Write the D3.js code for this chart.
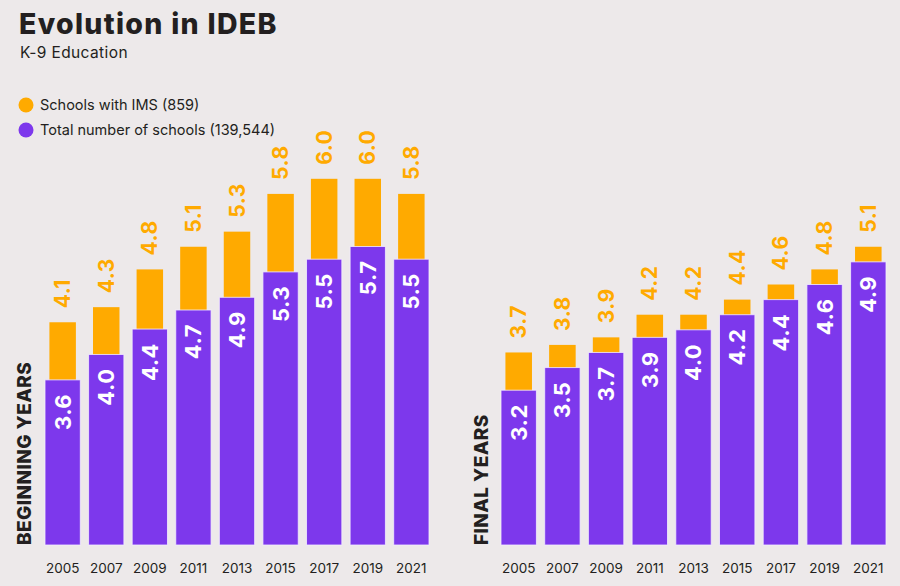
<!DOCTYPE html>
<html><head><meta charset="utf-8">
<script src="https://cdn.jsdelivr.net/npm/d3@7"></script>
<style>html,body{margin:0;padding:0;background:#EDE9EA;} svg{display:block}</style>
</head><body><svg id="c" width="900" height="586"></svg>
<script>
// ---- data ----
const years = ["2005","2007","2009","2011","2013","2015","2017","2019","2021"];
const beginningIMS   = [4.1, 4.3, 4.8, 5.1, 5.3, 5.8, 6.0, 6.0, 5.8];
const beginningTotal = [3.6, 4.0, 4.4, 4.7, 4.9, 5.3, 5.5, 5.7, 5.5];
const finalIMS       = [3.7, 3.8, 3.9, 4.2, 4.2, 4.4, 4.6, 4.8, 5.1];
const finalTotal     = [3.2, 3.5, 3.7, 3.9, 4.0, 4.2, 4.4, 4.6, 4.9];
const legendLabels = ["Schools with IMS (859)", "Total number of schools (139,544)"];
const panelTitles = ["BEGINNING YEARS", "FINAL YEARS"];
const titleText = "Evolution in IDEB";
const subtitleText = "K-9 Education";

// ---- style ----
const ORANGE = "#FFAA00", PURPLE = "#7D38EC", INK = "#231F20";
const FONT = "Inter, 'Open Sans', sans-serif";
const svg = d3.select("#c");
svg.append("rect").attr("width",900).attr("height",586).attr("fill","#EDE9EA");

svg.append("text").attr("x",19).attr("y",34).text(titleText)
  .attr("font-family",FONT).attr("font-weight",800).attr("font-size",28.5)
  .attr("letter-spacing",1.3).attr("fill",INK);
svg.append("text").attr("x",20).attr("y",57.5).text(subtitleText)
  .attr("font-family",FONT).attr("font-size",15.5).attr("letter-spacing",0.4).attr("fill",INK);

const legColor = d3.scaleOrdinal().domain(legendLabels).range([ORANGE, PURPLE]);
const legY = d3.scalePoint().domain(legendLabels).range([105,130]);
const leg = svg.append("g").selectAll("g").data(legendLabels).join("g")
  .attr("transform", d => `translate(26,${legY(d)})`);
leg.append("circle").attr("r",7.5).attr("fill", d => legColor(d));
leg.append("text").attr("x",14).attr("dy","0.35em").text(d => d)
  .attr("font-family",FONT).attr("font-size",14.5).attr("fill",INK);

const BASE = 545;
const panels = [
  { title: panelTitles[0], ims: beginningIMS, total: beginningTotal, x0: 45, x1: 429, labelX: 24,
    imsScale: d3.scaleLinear().domain([1.15, 6]).range([BASE, 178.8]),
    totalScale: d3.scaleLinear().domain([1.0, 5.7]).range([BASE, 246.5]) },
  { title: panelTitles[1], ims: finalIMS, total: finalTotal, x0: 501, x1: 886, labelX: 481,
    imsScale: d3.scaleLinear().domain([1.15, 6]).range([BASE, 178.8]),
    totalScale: d3.scaleLinear().domain([1.15, 6]).range([BASE, 178.8]) }
];

panels.forEach(p => {
  const x = d3.scaleBand().domain(years).range([p.x0, p.x1]).paddingInner(0.19).paddingOuter(0);
  const bw = x.bandwidth(), ow = bw * 0.75;
  const g = svg.append("g");
  const rows = years.map((y,i) => ({year:y, ims:p.ims[i], total:p.total[i]}));

  g.selectAll("rect.ims").data(rows).join("rect").attr("class","ims")
    .attr("x", d => x(d.year) + (bw-ow)/2).attr("width", ow)
    .attr("y", d => p.imsScale(d.ims)).attr("height", d => BASE - p.imsScale(d.ims))
    .attr("fill", ORANGE);
  g.selectAll("rect.tot").data(rows).join("rect").attr("class","tot")
    .attr("x", d => x(d.year)).attr("width", bw)
    .attr("y", d => p.totalScale(d.total)).attr("height", d => BASE - p.totalScale(d.total))
    .attr("fill", PURPLE).attr("stroke","#F4EEFF").attr("stroke-width",1).attr("stroke-opacity",0.8);

  g.selectAll("text.iml").data(rows).join("text").attr("class","iml")
    .attr("transform", d => `translate(${x(d.year)+bw/2},${p.imsScale(d.ims)-14}) rotate(-90)`)
    .attr("dy","0.36em").attr("text-anchor","start").text(d => d3.format(".1f")(d.ims))
    .attr("font-family",FONT).attr("font-weight",700).attr("font-size",21).attr("letter-spacing",0.5).attr("fill",ORANGE);
  g.selectAll("text.tol").data(rows).join("text").attr("class","tol")
    .attr("transform", d => `translate(${x(d.year)+bw/2},${p.totalScale(d.total)+14}) rotate(-90)`)
    .attr("dy","0.36em").attr("text-anchor","end").text(d => d3.format(".1f")(d.total))
    .attr("font-family",FONT).attr("font-weight",700).attr("font-size",22).attr("letter-spacing",0.5).attr("fill","#fff");

  const ax = g.append("g").attr("transform",`translate(0,${BASE})`)
    .call(d3.axisBottom(x).tickSize(0).tickPadding(18));
  ax.select(".domain").remove();
  ax.selectAll("text").attr("font-family",FONT).attr("font-size",13.5).attr("fill",INK);

  svg.append("text").attr("transform",`translate(${p.labelX},${BASE}) rotate(-90)`)
    .attr("dy","0.36em").attr("text-anchor","start").text(p.title)
    .attr("font-family",FONT).attr("font-weight",800).attr("font-size",19)
    .attr("letter-spacing",0.4).attr("fill",INK);
});
</script></body></html>
